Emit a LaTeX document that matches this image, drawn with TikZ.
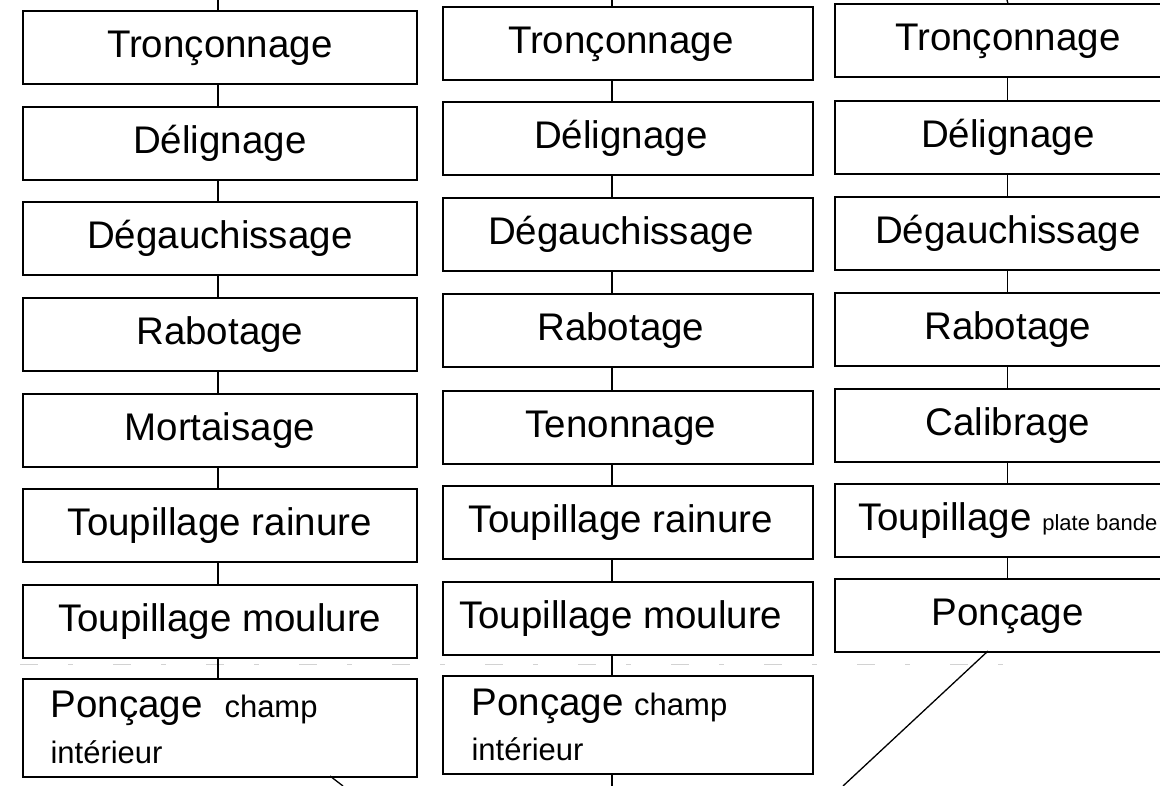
\documentclass[tikz,border=0pt]{standalone}
\usepackage{fontspec}
\setmainfont{Liberation Sans}
\usetikzlibrary{calc}
\newcommand{\grand}{\fontsize{38.5}{44}\selectfont}
\newcommand{\moyen}{\fontsize{31}{36}\selectfont}
\newcommand{\petit}{\fontsize{22}{26}\selectfont}
\tikzset{
  etape/.style={draw, line width=1.6pt, anchor=north west, inner sep=0pt,
    minimum height=73pt, text height=28pt, text depth=8pt, font=\grand},
  col1/.style={etape, minimum width=394pt},
  col2/.style={etape, minimum width=370pt, execute at end node={\hspace*{14pt}}},
  col3/.style={etape, minimum width=346pt},
  lien/.style={line width=1.3pt},
  pli/.style={gray!35, line width=0.7pt, dash pattern=on 18pt off 30pt on 5pt off 40pt}
}

\begin{document}
\begin{tikzpicture}[x=1pt, y=-1pt]
			%%%%% START %%%%%
			\useasboundingbox (0,0) rectangle (1160,786);
			
			\draw[pli] (20,664) -- (1040,664);
			
			% colonne 1
			\node[col1] (c1r1) at (22,10) {Tronçonnage};
			\node[col1] (c1r2) at (22,106) {Délignage};
			\node[col1] (c1r3) at (22,201) {Dégauchissage};
			\node[col1] (c1r4) at (22,297) {Rabotage};
			\node[col1] (c1r5) at (22,393) {Mortaisage};
			\node[col1] (c1r6) at (22,488) {Toupillage rainure};
			\node[col1] (c1r7) at (22,584) {Toupillage moulure};
			\node[col1, minimum height=98pt] (c1r8) at (22,678) {};
			\node[anchor=base west, font=\grand] (c1t1) at (47,717) {Ponçage\hspace{22pt}{\moyen champ}};
			\node[anchor=base west, font=\moyen] (c1t2) at (47,763) {intérieur};
			
			% colonne 2
			\node[col2] (c2r1) at (442,6) {Tronçonnage};
			\node[col2] (c2r2) at (442,101) {Délignage};
			\node[col2] (c2r3) at (442,197) {Dégauchissage};
			\node[col2] (c2r4) at (442,293) {Rabotage};
			\node[col2] (c2r5) at (442,390) {Tenonnage};
			\node[col2] (c2r6) at (442,485) {Toupillage rainure};
			\node[col2] (c2r7) at (442,581) {Toupillage moulure};
			\node[col2, minimum height=98pt] (c2r8) at (442,675) {};
			\node[anchor=base west, font=\grand] (c2t1) at (468,715) {Ponçage {\moyen champ}};
			\node[anchor=base west, font=\moyen] (c2t2) at (468,760) {intérieur};
			
			% colonne 3
			\node[col3] (c3r1) at (834,3) {Tronçonnage};
			\node[col3] (c3r2) at (834,100) {Délignage};
			\node[col3] (c3r3) at (834,196) {Dégauchissage};
			\node[col3] (c3r4) at (834,292) {Rabotage};
			\node[col3] (c3r5) at (834,388) {Calibrage};
			\node[col3] (c3r6) at (834,483) {Toupillage {\petit plate bande}};
			\node[col3] (c3r7) at (834,578) {Ponçage};
			
			% liaisons
			\coordinate (haut1) at (218,0);
			\coordinate (axe2) at (612,0);
			\coordinate (bas2) at (612,786);
			\coordinate (haut3) at (1007,0);
			\coordinate (dep1) at (330,776);
			\coordinate (fin1) at (343,786);
			\coordinate (dep3) at (988,651);
			\coordinate (fin3) at (843,786);
			
			\draw[lien] (haut1) -- (c1r1.north -| haut1);
			\draw[lien] (c1r1.south -| haut1) -- (c1r2.north -| haut1);
			\draw[lien] (c1r2.south -| haut1) -- (c1r3.north -| haut1);
			\draw[lien] (c1r3.south -| haut1) -- (c1r4.north -| haut1);
			\draw[lien] (c1r4.south -| haut1) -- (c1r5.north -| haut1);
			\draw[lien] (c1r5.south -| haut1) -- (c1r6.north -| haut1);
			\draw[lien] (c1r6.south -| haut1) -- (c1r7.north -| haut1);
			\draw[lien] (c1r7.south -| haut1) -- (c1r8.north -| haut1);
			\draw[lien] (dep1) -- (fin1);
			
			\draw[lien] (axe2) -- (c2r1.north -| axe2);
			\draw[lien] (c2r1.south -| axe2) -- (c2r2.north -| axe2);
			\draw[lien] (c2r2.south -| axe2) -- (c2r3.north -| axe2);
			\draw[lien] (c2r3.south -| axe2) -- (c2r4.north -| axe2);
			\draw[lien] (c2r4.south -| axe2) -- (c2r5.north -| axe2);
			\draw[lien] (c2r5.south -| axe2) -- (c2r6.north -| axe2);
			\draw[lien] (c2r6.south -| axe2) -- (c2r7.north -| axe2);
			\draw[lien] (c2r7.south -| axe2) -- (c2r8.north -| axe2);
			\draw[lien] (c2r8.south -| axe2) -- (bas2);
			
			\draw[lien] (haut3) -- (c3r1.north);
			\draw[lien] (c3r1.south) -- (c3r2.north);
			\draw[lien] (c3r2.south) -- (c3r3.north);
			\draw[lien] (c3r3.south) -- (c3r4.north);
			\draw[lien] (c3r4.south) -- (c3r5.north);
			\draw[lien] (c3r5.south) -- (c3r6.north);
			\draw[lien] (c3r6.south) -- (c3r7.north);
			\draw[lien] (dep3) -- (fin3);
			
			%%%%% END %%%%%
\end{tikzpicture}
\end{document}
